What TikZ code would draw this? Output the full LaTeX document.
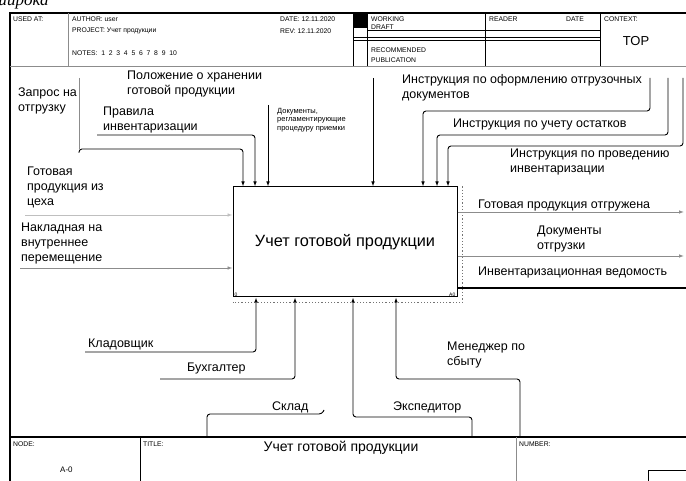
\documentclass[tikz,border=0pt]{standalone}
\usepackage{fontspec}
\setmainfont{Liberation Sans}
\newfontfamily\capfont{Liberation Serif}
\usetikzlibrary{arrows.meta,positioning,calc}

\begin{document}
\begin{tikzpicture}[
    x=1pt, y=-1pt,
    lbl/.style={inner sep=0pt, anchor=west, align=left,
      font=\fontsize{12.5}{15}\selectfont},
    hdr/.style={inner sep=0pt, anchor=west, font=\fontsize{6.8}{8}\selectfont},
    arr/.style={-{Latex[length=5pt,width=3.6pt]}, line width=0.9pt},
    faint/.style={draw=black!45, line width=0.7pt},
    frm/.style={line width=2.2pt},
    cell/.style={line width=1pt}
  ]
    \useasboundingbox (0,0) rectangle (686,481);
    % page text cut off above the frame
    \node[inner sep=0pt, anchor=west] (cap) at (-6,3)
      {\capfont\itshape\fontsize{17}{17}\selectfont широка};

    % frame
    \draw[frm] (10,481) -- (10,13) -- (690,13);
    \draw[frm] (10,437) -- (690,437);
    \draw[faint] (10,66) -- (686,66);
    \draw[faint] (68,13) -- (68,66);
    \draw[cell] (353,13) -- (353,66);
    \fill (353,13) rectangle (367,28);
    \draw[cell] (367,13) -- (367,66);
    \draw[cell] (485,13) -- (485,66);
    \draw[cell] (600,13) -- (600,66);
    \draw[cell] (367,31) -- (600,31);
    \draw[cell] (353,38) -- (600,38);
    \draw[cell] (353,41) -- (600,41);
    \draw[cell] (140,437) -- (140,481);
    \draw[faint] (516,437) -- (516,481);
    \draw[cell] (648,470) rectangle (692,490);

    % header
    \node[hdr] (usedat) at (13,19) {USED AT:};
    \node[hdr] (author) at (72,19) {AUTHOR: user};
    \node[hdr] (project) at (72,31) {PROJECT: Учет продукции};
    \node[hdr] (notes) at (72,53)
      {NOTES:\ \ 1\ \ 2\ \ 3\ \ 4\ \ 5\ \ 6\ \ 7\ \ 8\ \ 9\ \ 10};
    \node[hdr] (date) at (280,19) {DATE: 12.11.2020};
    \node[hdr] (rev) at (280,31) {REV: 12.11.2020};
    \node[hdr] (working) at (371,19) {WORKING};
    \node[hdr] (draft) at (371,27) {DRAFT};
    \node[hdr] (recom) at (371,50) {RECOMMENDED};
    \node[hdr] (publ) at (371,60) {PUBLICATION};
    \node[hdr] (reader) at (489,19) {READER};
    \node[hdr] (rdate) at (566,19) {DATE};
    \node[hdr] (context) at (604,19) {CONTEXT:};
    \node[inner sep=0pt, font=\fontsize{13}{13}\selectfont] (top) at (636,41) {TOP};

    % footer
    \node[hdr] (node) at (13,444) {NODE:};
    \node[hdr, font=\fontsize{8}{8}\selectfont] (nodeno) at (60,470) {A-0};
    \node[hdr] (title) at (143,444) {TITLE:};
    \node[inner sep=0pt, font=\fontsize{14}{14}\selectfont] (titletxt) at (341,448)
      {Учет готовой продукции};
    \node[hdr] (number) at (519,444) {NUMBER:};

    % function box
    \node[draw, line width=1pt, minimum width=224pt, minimum height=110pt,
      inner sep=0pt, font=\fontsize{16.3}{18}\selectfont] (fn) at (345,242)
      {Учет готовой продукции};
    \node[inner sep=0pt, anchor=south west, font=\fontsize{5}{5}\selectfont]
      (fnno) at ([shift={(2,-1)}]fn.south west) {0};
    \node[inner sep=0pt, anchor=south east, font=\fontsize{5}{5}\selectfont]
      (fnid) at ([shift={(-2,-1)}]fn.south east) {A0};
    \draw[black!55, dotted, line width=1.2pt] ([shift={(5,0)}]fn.north east)
      -- ([shift={(5,5)}]fn.south east) -- ([shift={(0,5)}]fn.south west);

    % controls
    \coordinate (ctlA) at (79,78);
    \coordinate (ctlAx) at (243,149);
    \coordinate (ctlB) at (97,135);
    \coordinate (ctlBx) at (255,135);
    \coordinate (ctlC) at (268,105);
    \coordinate (ctlD) at (373,78);
    \coordinate (ctlE) at (650,78);
    \coordinate (ctlEx) at (423,111);
    \coordinate (ctlF) at (668,78);
    \coordinate (ctlFx) at (437,135);
    \coordinate (ctlG) at (683,78);
    \coordinate (ctlGx) at (448,146);
    \draw[faint] (ctlA) -- (ctlA |- ctlAx);
    \draw[arr, rounded corners=3pt] ([yshift=-4pt]ctlA |- ctlAx) |- (ctlAx)
      -- (ctlAx |- fn.north);
    \draw[arr, rounded corners=3pt] (ctlB) -- (ctlBx) -- (ctlBx |- fn.north);
    \draw[arr] (ctlC) -- (ctlC |- fn.north);
    \draw[arr] (ctlD) -- (ctlD |- fn.north);
    \draw[arr, rounded corners=3pt] (ctlE) |- (ctlEx) -- (ctlEx |- fn.north);
    \draw[arr, rounded corners=3pt] (ctlF) |- (ctlFx) -- (ctlFx |- fn.north);
    \draw[arr, rounded corners=3pt] (ctlG) |- (ctlGx) -- (ctlGx |- fn.north);

    \node[lbl] (polozh) at (127,84) {Положение о хранении\\готовой продукции};
    \node[lbl] (zapros) at (18,101) {Запрос на\\отгрузку};
    \node[lbl] (pravila) at (103,120) {Правила\\инвентаризации};
    \node[lbl, font=\fontsize{7.5}{8.5}\selectfont] (docs) at (277,120)
      {Документы,\\регламентирующие\\процедуру приемки};
    \node[lbl] (instrA) at (402,88) {Инструкция по оформлению отгрузочных\\документов};
    \node[lbl] (instrB) at (453,124) {Инструкция по учету остатков};
    \node[lbl] (instrC) at (510,162) {Инструкция по проведению\\инвентаризации};

    % inputs
    \coordinate (inA) at (25,215);
    \coordinate (inB) at (20,268);
    \draw[arr, draw=black!25] (inA) -- (inA -| fn.west);
    \draw[arr, draw=black!45] (inB) -- (inB -| fn.west);
    \node[lbl] (gotovaya) at (27,187) {Готовая\\продукция из\\цеха};
    \node[lbl] (nakladn) at (21,243) {Накладная на\\внутреннее\\перемещение};

    % outputs
    \coordinate (outA) at (684,212);
    \coordinate (outB) at (684,256);
    \coordinate (outC) at (690,288);
    \draw[arr, draw=black!45] (outA -| fn.east) -- (outA);
    \draw[arr, draw=black!45] (outB -| fn.east) -- (outB);
    \draw[line width=1.2pt] (outC -| fn.east) -- (outC);
    \node[lbl] (otgr) at (478,205) {Готовая продукция отгружена};
    \node[lbl] (dokotgr) at (537,239) {Документы\\отгрузки};
    \node[lbl] (vedom) at (478,272) {Инвентаризационная ведомость};

    % mechanisms
    \coordinate (mechA) at (85,352);
    \coordinate (mechAx) at (256,352);
    \coordinate (mechB) at (160,379);
    \coordinate (mechBx) at (295,379);
    \coordinate (mechC) at (472,437);
    \coordinate (mechCx) at (353,417);
    \coordinate (mechD) at (520,437);
    \coordinate (mechDx) at (396,379);
    \coordinate (mechE) at (207,437);
    \coordinate (mechEx) at (322,414);
    \draw[arr, rounded corners=3pt] (mechA) -- (mechAx) -- (mechAx |- fn.south);
    \draw[arr, rounded corners=3pt] (mechB) -- (mechBx) -- (mechBx |- fn.south);
    \draw[arr, rounded corners=3pt] (mechC) |- (mechCx) -- (mechCx |- fn.south);
    \draw[arr, rounded corners=3pt] (mechD) |- (mechDx) -- (mechDx |- fn.south);
    \draw[line width=0.9pt, rounded corners=3pt] (mechE) |- (mechEx) -- ++(2,-4);
    \node[lbl] (kladov) at (88,344) {Кладовщик};
    \node[lbl] (buhg) at (187,368) {Бухгалтер};
    \node[lbl] (sklad) at (272,407) {Склад};
    \node[lbl] (eksped) at (393,407) {Экспедитор};
    \node[lbl] (menedzh) at (447,355) {Менеджер по\\сбыту};
\end{tikzpicture}
\end{document}
